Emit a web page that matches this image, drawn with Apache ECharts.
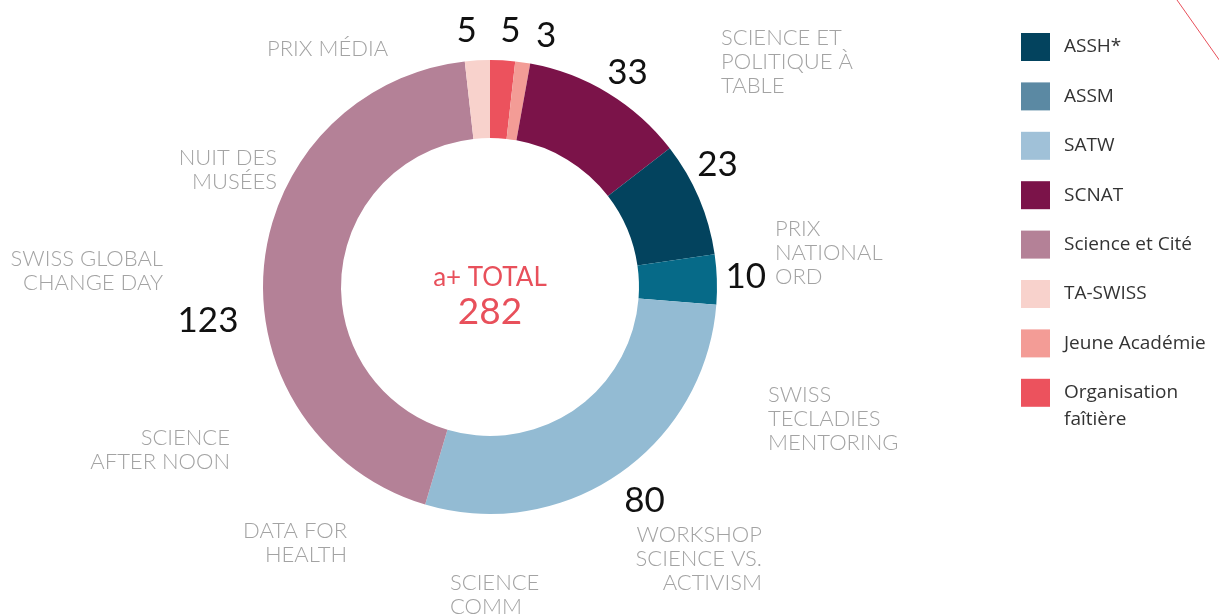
<!DOCTYPE html>
<html>
<head>
<meta charset="utf-8">
<style>
  html, body { margin: 0; padding: 0; background: #fff; }
  #chart { width: 1219px; height: 615px; }
</style>
<script src="https://cdn.jsdelivr.net/npm/echarts@6/dist/echarts.min.js"></script>
</head>
<body>
<div id="chart"></div>
<script>
// slices, clockwise from 12 o'clock
var sliceNames = ['Organisation faîtière', 'Jeune Académie', 'SCNAT', 'ASSH*', 'ASSM', 'SATW', 'Science et Cité', 'TA-SWISS'];
var sliceValues = [5, 3, 33, 23, 10, 80, 123, 5];
var sliceColors = ['#ec525d', '#f39c96', '#7b1349', '#03435e', '#066a88', '#93bbd3', '#b48197', '#f8d2cc'];

// legend order and its swatch colours
var legendNames = ['ASSH*', 'ASSM', 'SATW', 'SCNAT', 'Science et Cité', 'TA-SWISS', 'Jeune Académie', 'Organisation faîtière'];
var legendColors = ['#03435e', '#5b89a3', '#a0c1d8', '#7b1349', '#b48197', '#f8d2cc', '#f39c96', '#ec525d'];

// small nudges for the value labels [dx, dy]
var labelNudge = [[6, 0], [19, 3], [4, 5], [-9, -22], [-1, -2], [9, 2], [-26, 57], [-9, 0]];

var fontFamily = 'Lato, "Open Sans", sans-serif';
var legendFont = '"Open Sans", Lato, sans-serif';
var grey = '#a3a3a3';
var red = '#e8505b';

var total = sliceValues.reduce(function (a, b) { return a + b; }, 0);

var chart = echarts.init(document.getElementById('chart'));

function note(x, y, lines, align) {
    return {
        type: 'text',
        x: x,
        y: y,
        style: {
            text: lines.join('\n'),
            fill: grey,
            font: '300 22px ' + fontFamily,
            lineHeight: 24,
            align: align
        }
    };
}

var option = {
    animation: false,
    legend: {
        orient: 'vertical',
        left: 1016,
        top: 28,
        itemWidth: 29,
        itemHeight: 28,
        itemGap: 21.4,
        icon: 'rect',
        selectedMode: false,
        textStyle: {
            color: '#333',
            fontSize: 19,
            fontFamily: legendFont,
            padding: [0, 0, 0, 9]
        },
        formatter: function (name) {
            return name === 'Organisation faîtière' ? 'Organisation' : name;
        },
        data: legendNames.map(function (n, i) {
            return { name: n, itemStyle: { color: legendColors[i] } };
        })
    },
    graphic: [
        { type: 'text', x: 490, y: 278, style: { text: 'a+ TOTAL', fill: red, font: '26px ' + fontFamily, align: 'center', verticalAlign: 'middle' } },
        { type: 'text', x: 490, y: 312, style: { text: String(total), fill: red, font: '37px ' + fontFamily, align: 'center', verticalAlign: 'middle' } },
        { type: 'text', x: 1064, y: 420, style: { text: 'faîtière', fill: '#333', font: '19px ' + legendFont, verticalAlign: 'middle' } },
        { type: 'line', shape: { x1: 1177, y1: 0, x2: 1220, y2: 61 }, style: { stroke: red, lineWidth: 1 } },
        note(267, 37, ['PRIX MÉDIA'], 'left'),
        note(721, 26, ['SCIENCE ET', 'POLITIQUE À', 'TABLE'], 'left'),
        note(775, 217, ['PRIX', 'NATIONAL', 'ORD'], 'left'),
        note(768, 383, ['SWISS', 'TECLADIES', 'MENTORING'], 'left'),
        note(450, 571, ['SCIENCE', 'COMM'], 'left'),
        note(762, 523, ['WORKSHOP', 'SCIENCE VS.', 'ACTIVISM'], 'right'),
        note(347, 519, ['DATA FOR', 'HEALTH'], 'right'),
        note(230, 426, ['SCIENCE', 'AFTER NOON'], 'right'),
        note(163, 247, ['SWISS GLOBAL', 'CHANGE DAY'], 'right'),
        note(277, 146, ['NUIT DES', 'MUSÉES'], 'right')
    ],
    series: [{
        type: 'pie',
        center: [490, 287],
        radius: [149, 227],
        startAngle: 90,
        clockwise: true,
        avoidLabelOverlap: false,
        silent: true,
        itemStyle: { borderWidth: 0 },
        label: {
            show: true,
            position: 'outside',
            distanceToLabelLine: 0,
            formatter: '{c}',
            color: '#111',
            fontSize: 35,
            fontFamily: fontFamily
        },
        labelLine: { show: false, length: 30, length2: 0 },
        labelLayout: function (p) {
            var n = labelNudge[p.dataIndex];
            return { align: 'center', dx: n[0], dy: n[1] };
        },
        data: sliceNames.map(function (n, i) {
            return { name: n, value: sliceValues[i], itemStyle: { color: sliceColors[i] } };
        })
    }]
};

chart.setOption(option);
</script>
</body>
</html>
